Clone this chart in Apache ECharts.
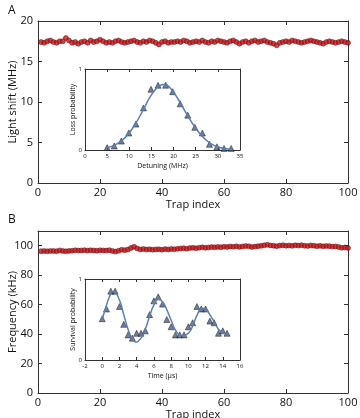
<!DOCTYPE html>
<html>
<head>
<meta charset="utf-8">
<script src="https://cdn.jsdelivr.net/npm/echarts@6/dist/echarts.min.js"></script>
<style>
  html, body { margin: 0; padding: 0; background: #fff; }
  #main { width: 360px; height: 418px; }
</style>
</head>
<body>
<div id="main"></div>
<script>
// panel A: light shift per trap (MHz)
var lightShift = [
  17.4, 17.3, 17.5, 17.6, 17.4, 17.3, 17.5, 17.5, 17.9, 17.6,
  17.3, 17.4, 17.2, 17.4, 17.5, 17.3, 17.6, 17.4, 17.5, 17.7,
  17.5, 17.3, 17.4, 17.3, 17.5, 17.6, 17.4, 17.3, 17.4, 17.5,
  17.6, 17.4, 17.3, 17.5, 17.4, 17.6, 17.5, 17.3, 17.1, 17.4,
  17.5, 17.3, 17.4, 17.4, 17.5, 17.4, 17.6, 17.5, 17.3, 17.4,
  17.5, 17.4, 17.6, 17.4, 17.3, 17.5, 17.4, 17.6, 17.5, 17.4,
  17.3, 17.5, 17.6, 17.4, 17.2, 17.4, 17.5, 17.3, 17.5, 17.6,
  17.4, 17.5, 17.6, 17.4, 17.3, 17.2, 17.0, 17.3, 17.4, 17.5,
  17.4, 17.6, 17.5, 17.4, 17.3, 17.4, 17.5, 17.6, 17.5, 17.4,
  17.3, 17.2, 17.4, 17.5, 17.4, 17.3, 17.4, 17.5, 17.4, 17.3
];
// panel B: trap frequency per trap (kHz)
var trapFreq = [
  96.3, 96.4, 96.2, 96.5, 96.4, 96.3, 96.8, 96.4, 96.2, 96.5,
  96.6, 96.9, 96.7, 96.8, 97.0, 96.7, 96.9, 96.8, 96.6, 96.9,
  96.8, 96.7, 97.0, 96.5, 96.0, 96.6, 97.3, 97.0, 97.4, 98.5,
  99.3, 98.2, 97.5, 97.8, 97.4, 97.6, 97.3, 97.5, 97.6, 97.3,
  97.7, 97.5, 97.8, 97.6, 97.9, 98.1, 98.3, 98.0, 98.4, 98.6,
  98.3, 98.7, 98.9, 98.6, 98.8, 99.1, 98.9, 99.2, 99.0, 99.3,
  99.1, 99.5, 99.3, 99.6, 99.2, 99.5, 99.8, 99.6, 99.1, 99.4,
  99.7, 99.9, 100.3, 100.6, 100.2, 100.0, 99.7, 100.1, 100.3, 100.0,
  100.2, 99.9, 100.3, 100.1, 100.4, 100.0, 99.8, 100.2, 100.0, 99.7,
  99.9, 99.6, 99.8, 99.7, 99.4, 99.5, 99.2, 98.6, 98.8, 98.5
];

// inset A: loss probability vs detuning
var detuning = [5.0, 6.6, 8.2, 9.9, 11.5, 13.2, 14.9, 16.5, 18.2, 19.8, 21.5, 23.2, 24.8, 26.5, 28.1, 29.8, 31.4, 33.0];
var lossProb = [0.03, 0.05, 0.11, 0.21, 0.32, 0.52, 0.75, 0.80, 0.80, 0.72, 0.57, 0.43, 0.28, 0.21, 0.07, 0.04, 0.02, 0.02];
var lossFitX = [5, 7, 9, 11, 13, 15, 17, 18, 19, 21, 23, 25, 27, 29, 31, 33];
var lossFitY = [0.03, 0.07, 0.15, 0.29, 0.48, 0.68, 0.80, 0.81, 0.78, 0.63, 0.44, 0.27, 0.14, 0.06, 0.025, 0.01];

// inset B: survival probability vs time (us)
var timeUs = [0, 0.5, 1, 1.5, 2, 2.5, 3, 3.5, 4, 4.5, 5, 5.5, 6, 6.5, 7, 7.5, 8, 8.5, 9, 9.5, 10, 10.5, 11, 11.5, 12, 12.5, 13, 13.5, 14, 14.5];
var survProb = [0.51, 0.63, 0.85, 0.85, 0.66, 0.44, 0.31, 0.27, 0.33, 0.33, 0.36, 0.56, 0.73, 0.78, 0.69, 0.50, 0.41, 0.31, 0.31, 0.31, 0.41, 0.46, 0.66, 0.63, 0.63, 0.48, 0.46, 0.33, 0.36, 0.33];
var survFitX = [0, 0.5, 1, 1.3, 2, 2.5, 3, 3.5, 3.9, 4.5, 5, 5.5, 6, 6.5, 7, 7.5, 8, 8.5, 9, 9.4, 10, 10.5, 11, 11.6, 12, 12.5, 13, 13.5, 14, 14.5];
var survFitY = [0.50, 0.68, 0.82, 0.85, 0.74, 0.56, 0.38, 0.26, 0.22, 0.27, 0.38, 0.54, 0.68, 0.75, 0.72, 0.62, 0.49, 0.37, 0.31, 0.30, 0.33, 0.42, 0.55, 0.64, 0.63, 0.56, 0.47, 0.38, 0.34, 0.32];

var FONT = 'Open Sans';
var AX = '#333';
var TXT = '#111';

function pairs(xs, ys) {
  return ys.map(function (v, i) { return [xs[i], v]; });
}
function idxPairs(ys) {
  return ys.map(function (v, i) { return [i + 1, v]; });
}

function mainX(grid, name) {
  return {
    gridIndex: grid, type: 'value', min: 0, max: 100, interval: 20,
    name: name, nameLocation: 'middle', nameGap: 16, nameMoveOverlap: false,
    nameTextStyle: { fontFamily: FONT, fontSize: 11, color: TXT },
    axisLine: { onZero: false, lineStyle: { color: AX, width: 1 } },
    axisTick: { inside: true, length: 4, lineStyle: { color: AX } },
    axisLabel: { fontFamily: FONT, fontSize: 11, color: TXT, margin: 4 },
    splitLine: { show: false }
  };
}
function mirrorX(grid, min, max, interval, len) {
  return {
    gridIndex: grid, type: 'value', position: 'top', min: min, max: max, interval: interval,
    axisLine: { onZero: false, lineStyle: { color: AX, width: 1 } },
    axisTick: { inside: true, length: len, lineStyle: { color: AX } },
    axisLabel: { show: false }, splitLine: { show: false }
  };
}
function mirrorY(grid, min, max, interval, len) {
  return {
    gridIndex: grid, type: 'value', position: 'right', min: min, max: max, interval: interval,
    axisLine: { show: true, onZero: false, lineStyle: { color: AX, width: 1 } },
    axisTick: { show: len > 0, inside: true, length: len, lineStyle: { color: AX } },
    axisLabel: { show: false }, splitLine: { show: false }
  };
}
function insetX(grid, min, max, interval, name) {
  return {
    gridIndex: grid, type: 'value', min: min, max: max, interval: interval,
    name: name, nameLocation: 'middle', nameGap: 12, nameMoveOverlap: false,
    nameTextStyle: { fontFamily: FONT, fontSize: 7, color: TXT },
    axisLine: { onZero: false, lineStyle: { color: AX, width: 1 } },
    axisTick: { inside: true, length: 3, lineStyle: { color: AX } },
    axisLabel: { fontFamily: FONT, fontSize: 6, color: TXT, margin: 3 },
    splitLine: { show: false }
  };
}
function insetY(grid, name) {
  return {
    gridIndex: grid, type: 'value', min: 0, max: 1, interval: 1,
    name: name, nameLocation: 'middle', nameGap: 9, nameMoveOverlap: false,
    nameTextStyle: { fontFamily: FONT, fontSize: 7, color: TXT },
    axisLine: { show: true, onZero: false, lineStyle: { color: AX, width: 1 } },
    axisTick: { show: true, inside: true, length: 3, lineStyle: { color: AX } },
    axisLabel: { fontFamily: FONT, fontSize: 6, color: TXT, margin: 3 },
    splitLine: { show: false }
  };
}
function mainY(grid, max, interval, name, gap) {
  return {
    gridIndex: grid, type: 'value', min: 0, max: max, interval: interval,
    name: name, nameLocation: 'middle', nameGap: gap, nameMoveOverlap: false,
    nameTextStyle: { fontFamily: FONT, fontSize: 11, color: TXT },
    axisLine: { show: true, onZero: false, lineStyle: { color: AX, width: 1 } },
    axisTick: { show: true, inside: true, length: 4, lineStyle: { color: AX } },
    axisLabel: {
      fontFamily: FONT, fontSize: 11, color: TXT, margin: 5,
      formatter: function (v) { return v > 100 ? '' : v; }
    },
    splitLine: { show: false }
  };
}

var chart = echarts.init(document.getElementById('main'));

var option = {
  backgroundColor: '#fff',
  animation: false,
  title: [
    { text: 'A', left: 3, top: 0, textStyle: { fontFamily: FONT, fontSize: 12, fontWeight: 'normal', color: TXT } },
    { text: 'B', left: 3, top: 209, textStyle: { fontFamily: FONT, fontSize: 12, fontWeight: 'normal', color: TXT } }
  ],
  grid: [
    { left: 38, top: 21, width: 310, height: 162, outerBoundsMode: 'none' },
    { left: 85, top: 69, width: 155, height: 81, outerBoundsMode: 'none' },
    { left: 38, top: 231, width: 310, height: 162, outerBoundsMode: 'none' },
    { left: 85, top: 279, width: 155, height: 81, outerBoundsMode: 'none' }
  ],
  xAxis: [
    mainX(0, 'Trap index'),
    mirrorX(0, 0, 100, 20, 4),
    insetX(1, 0, 35, 5, 'Detuning (MHz)'),
    mirrorX(1, 0, 35, 5, 3),
    mainX(2, 'Trap index'),
    mirrorX(2, 0, 100, 20, 4),
    insetX(3, -2, 16, 2, 'Time (\u00b5s)'),
    mirrorX(3, -2, 16, 2, 3)
  ],
  yAxis: [
    mainY(0, 20, 5, 'Light shift (MHz)', 20),
    mirrorY(0, 0, 20, 5, 4),
    insetY(1, 'Loss probability'),
    mirrorY(1, 0, 1, 1, 0),
    mainY(2, 110, 20, 'Frequency (kHz)', 20),
    mirrorY(2, 0, 110, 20, 4),
    insetY(3, 'Survival probability'),
    mirrorY(3, 0, 1, 1, 0)
  ],
  series: [
    {
      type: 'scatter', xAxisIndex: 0, yAxisIndex: 0,
      data: idxPairs(lightShift), symbol: 'circle', symbolSize: 5,
      itemStyle: { color: '#c4161c', borderColor: '#5e0808', borderWidth: 0.6 }
    },
    {
      type: 'line', xAxisIndex: 2, yAxisIndex: 2,
      data: pairs(lossFitX, lossFitY), smooth: 0.5, showSymbol: false,
      lineStyle: { color: '#5a7fb8', width: 1.5 }
    },
    {
      type: 'scatter', xAxisIndex: 2, yAxisIndex: 2,
      data: pairs(detuning, lossProb), symbol: 'triangle', symbolSize: 6,
      itemStyle: { color: '#4f5f7e', borderColor: '#111', borderWidth: 0.6 }
    },
    {
      type: 'scatter', xAxisIndex: 4, yAxisIndex: 4,
      data: idxPairs(trapFreq), symbol: 'circle', symbolSize: 5,
      itemStyle: { color: '#c4161c', borderColor: '#5e0808', borderWidth: 0.6 }
    },
    {
      type: 'line', xAxisIndex: 6, yAxisIndex: 6,
      data: pairs(survFitX, survFitY), smooth: 0.5, showSymbol: false,
      lineStyle: { color: '#5a7fb8', width: 1.5 }
    },
    {
      type: 'scatter', xAxisIndex: 6, yAxisIndex: 6,
      data: pairs(timeUs, survProb), symbol: 'triangle', symbolSize: 6,
      itemStyle: { color: '#4f5f7e', borderColor: '#111', borderWidth: 0.6 }
    }
  ]
};

option && chart.setOption(option);
</script>
</body>
</html>
